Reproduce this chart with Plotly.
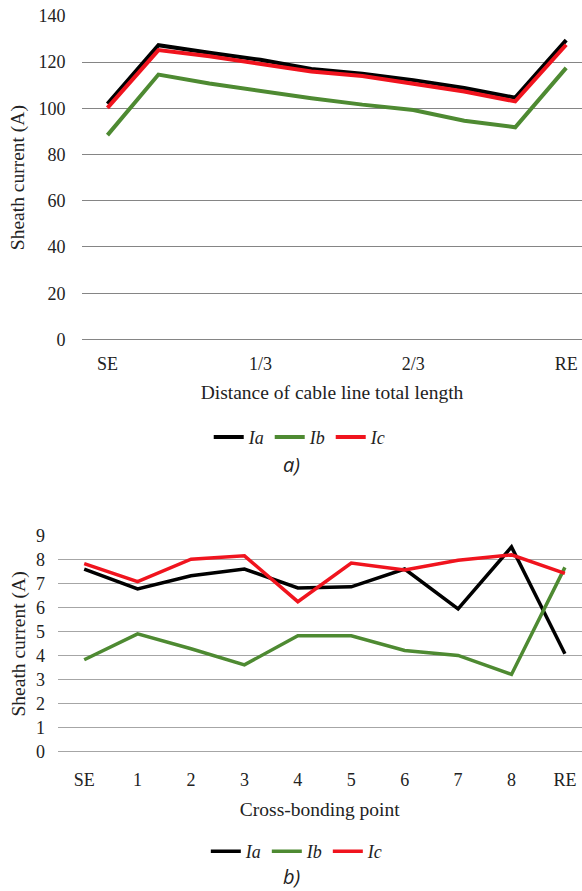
import plotly.graph_objects as go

# ---- data: panel a) ----
a_labels = ["SE", "", "", "1/3", "", "", "2/3", "", "", "RE"]
a_Ia = [101.9, 127.3, 124.0, 121.0, 117.0, 115.0, 112.2, 108.8, 104.6, 129.5]
a_Ib = [88.4, 114.6, 110.7, 107.5, 104.4, 101.6, 99.3, 94.6, 91.8, 117.5]
a_Ic = [100.2, 125.2, 122.5, 119.3, 115.9, 114.0, 110.5, 107.3, 103.0, 127.5]

# ---- data: panel b) ----
b_labels = ["SE", "1", "2", "3", "4", "5", "6", "7", "8", "RE"]
b_Ia = [7.62, 6.79, 7.34, 7.62, 6.83, 6.88, 7.62, 5.96, 8.54, 4.09]
b_Ib = [3.84, 4.92, 4.30, 3.63, 4.84, 4.84, 4.23, 4.02, 3.23, 7.69]
b_Ic = [7.85, 7.10, 8.03, 8.17, 6.26, 7.87, 7.58, 7.99, 8.21, 7.44]

series_names = ["<i>Ia</i>", "<i>Ib</i>", "<i>Ic</i>"]
colors = ["#000000", "#4e8a32", "#f0141e"]

W, H = 582, 891
SERIF = "Liberation Serif"

fig = go.Figure()

a_x = list(range(len(a_labels)))
for name, vals, col in zip(series_names, [a_Ia, a_Ib, a_Ic], colors):
    fig.add_trace(go.Scatter(x=a_x, y=vals, mode="lines", name=name,
                             line=dict(color=col, width=4), legend="legend",
                             xaxis="x", yaxis="y"))

for name, vals, col in zip(series_names, [b_Ia, b_Ib, b_Ic], colors):
    fig.add_trace(go.Scatter(x=b_labels, y=vals, mode="lines", name=name,
                             line=dict(color=col, width=3.5), legend="legend2",
                             xaxis="x2", yaxis="y2"))

tickvals_a = [i for i, l in enumerate(a_labels) if l]
ticktext_a = [l for l in a_labels if l]

def py(pix):
    return 1 - pix / H

axis_font = dict(family=SERIF, size=18, color="#222")
title_font = dict(family=SERIF, size=19.5, color="#222")

fig.update_layout(
    width=W, height=H,
    margin=dict(l=0, r=0, t=0, b=0),
    paper_bgcolor="white", plot_bgcolor="white",
    showlegend=True,
    xaxis=dict(domain=[82 / W, 1], range=[-0.5, 9.31],
               tickvals=tickvals_a, ticktext=ticktext_a,
               showgrid=False, zeroline=False, showline=False,
               ticks="outside", ticklen=8, tickcolor="rgba(0,0,0,0)",
               tickfont=axis_font, anchor="y",
               title=dict(text="Distance of cable line total length",
                          font=title_font, standoff=12)),
    yaxis=dict(domain=[py(337), py(6)], range=[0, 140], dtick=20,
               showgrid=True, gridcolor="#858585", gridwidth=1,
               zeroline=True, zerolinecolor="#858585", zerolinewidth=1,
               showline=False, ticks="outside", ticklen=12,
               tickcolor="rgba(0,0,0,0)", tickfont=axis_font, anchor="x",
               title=dict(text="Sheath current (A)", font=title_font, standoff=8)),
    xaxis2=dict(domain=[57.5 / W, 1], range=[-0.5, 9.32], type="category",
                showgrid=False, zeroline=False, showline=False,
                ticks="outside", ticklen=11, tickcolor="rgba(0,0,0,0)",
                tickfont=axis_font, anchor="y2",
                title=dict(text="Cross-bonding point", font=title_font, standoff=13)),
    yaxis2=dict(domain=[py(759), py(538)], range=[0, 9], dtick=1,
                showgrid=True, gridcolor="#a6a6a6", gridwidth=1,
                zeroline=True, zerolinecolor="#a6a6a6", zerolinewidth=1,
                showline=False, ticks="outside", ticklen=8,
                tickcolor="rgba(0,0,0,0)", tickfont=axis_font, anchor="x2",
                title=dict(text="Sheath current (A)", font=title_font, standoff=5)),
    legend=dict(orientation="h", x=0.515, xanchor="center", y=py(437), yanchor="middle",
                font=dict(family=SERIF, size=18, color="#222"),
                bgcolor="rgba(0,0,0,0)", itemwidth=30, tracegroupgap=0),
    legend2=dict(orientation="h", x=0.51, xanchor="center", y=py(861), yanchor="middle",
                 font=dict(family=SERIF, size=18, color="#222"),
                 bgcolor="rgba(0,0,0,0)", itemwidth=30, tracegroupgap=0),
    annotations=[
        dict(text="<i>a)</i>", x=0.5, y=py(465), xref="paper", yref="paper",
             xanchor="center", yanchor="middle",
             showarrow=False, font=dict(family="Open Sans", size=20, color="#222")),
        dict(text="<i>b)</i>", x=0.5, y=py(886), xref="paper", yref="paper",
             xanchor="center", yanchor="middle",
             showarrow=False, font=dict(family="Open Sans", size=20, color="#222")),
    ],
)

fig.write_html("out.html")
